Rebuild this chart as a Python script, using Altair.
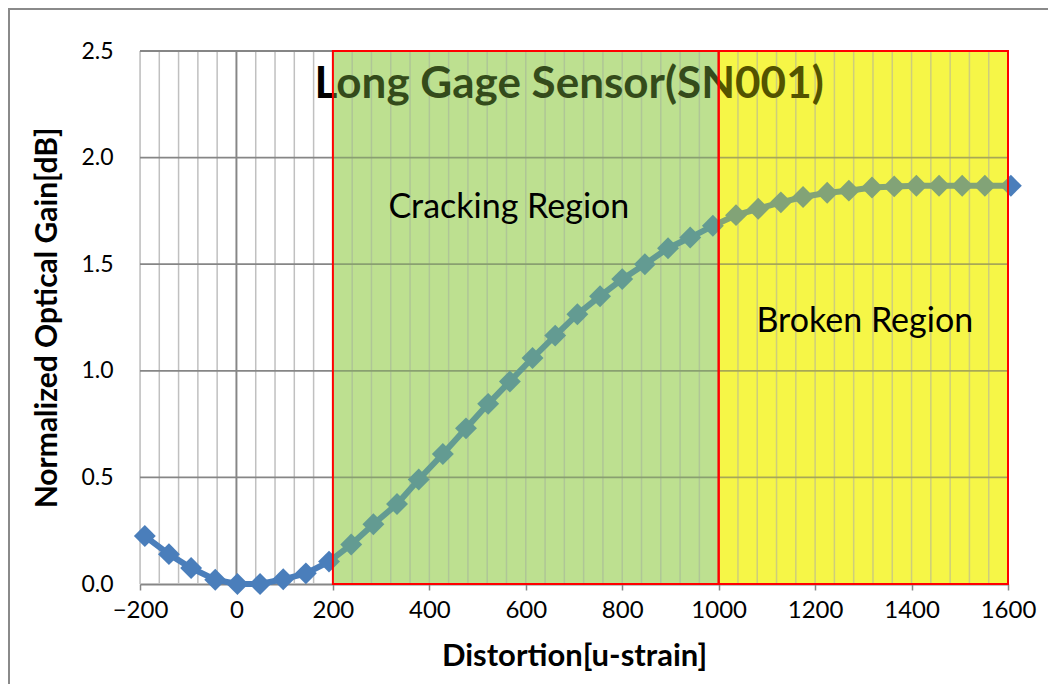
import altair as alt
import pandas as pd

# ---- data ----
strain = [-190, -140, -94, -44, 2, 49, 97, 144, 192, 238, 284, 333, 378, 428, 476,
          522, 567, 614, 661, 707, 754, 800, 847, 895, 941, 988, 1036, 1082, 1129,
          1175, 1225, 1270, 1318, 1364, 1410, 1457, 1505, 1552, 1606]
gain = [0.225, 0.14, 0.075, 0.02, 0.0, 0.0, 0.022, 0.05, 0.105, 0.185, 0.28, 0.375,
        0.49, 0.61, 0.73, 0.845, 0.95, 1.06, 1.165, 1.265, 1.35, 1.43, 1.50, 1.575,
        1.625, 1.68, 1.73, 1.76, 1.79, 1.815, 1.835, 1.845, 1.86, 1.865, 1.868,
        1.868, 1.868, 1.868, 1.868]

x_ticks = [-200, 0, 200, 400, 600, 800, 1000, 1200, 1400, 1600]
y_ticks = [0.0, 0.5, 1.0, 1.5, 2.0, 2.5]
x_minor = list(range(-200, 1601, 40))
y_grid = [0.5, 1.0, 1.5, 2.0, 2.5]

region_name = ["Cracking Region", "Broken Region"]
region_start = [200, 1000]
region_end = [1000, 1600]
region_bottom = [0.0, 0.0]
region_top = [2.5, 2.5]
label_x = [565, 1303]
label_y = [1.764, 1.229]

title_text = ["Long Gage Sensor(SN001)"]
title_x = [690]
title_y = [2.34]

# ---- styles ----
under_colors = {"Cracking Region": "#d6eab8", "Broken Region": "#ffff70"}
over_colors = {"Cracking Region": "#8fcf4a", "Broken Region": "#e6e600"}
BLUE = "#4a7ebb"
FONT = "Lato"

W, H = 868, 533

df = pd.DataFrame({"x": strain, "y": gain})
regions = pd.DataFrame({
    "name": region_name, "x": region_start, "x2": region_end,
    "y": region_bottom, "y2": region_top,
    "lx": label_x, "ly": label_y,
})
regions["under"] = regions["name"].map(under_colors)
regions["over"] = regions["name"].map(over_colors)

xs = alt.Scale(domain=[-200, 1600], nice=False, zero=False)
ys = alt.Scale(domain=[0, 2.5], nice=False, zero=False)

x_axis = alt.Axis(
    values=x_ticks, format="d", grid=False, labelFlush=False,
    domainColor="#868686", domainWidth=2,
    tickColor="#868686", tickSize=6, tickWidth=1.5,
    labelFont=FONT, labelFontSize=24, labelColor="black", labelPadding=8,
    title="Distortion[u-strain]", titleFont=FONT, titleFontSize=31,
    titleFontWeight="bold", titleColor="black",
    titleX=W / 2, titleY=72, titleBaseline="middle", titleAlign="center",
)
y_axis = alt.Axis(
    values=y_ticks, format=".1f", grid=False, domain=False, ticks=False,
    labelFlush=False,
    labelFont=FONT, labelFontSize=23, labelColor="black", labelPadding=27,
    title="Normalized Optical Gain[dB]", titleFont=FONT, titleFontSize=30,
    titleFontWeight="bold", titleColor="black",
    titleX=-93, titleY=H / 2, titleBaseline="middle", titleAlign="center",
)


def X(field="x"):
    return alt.X(f"{field}:Q", scale=xs, axis=x_axis)


def Y(field="y"):
    return alt.Y(f"{field}:Q", scale=ys, axis=y_axis)


under = alt.Chart(regions).mark_rect(opacity=1).encode(
    x=X(), x2="x2", y=Y(), y2="y2",
    fill=alt.Fill("under:N", scale=None),
)

vgrid = alt.Chart(pd.DataFrame({"x": x_minor})).mark_rule(
    color="#c0c0c0", strokeWidth=1.5
).encode(x=X())

yline = alt.Chart(pd.DataFrame({"x": [0]})).mark_rule(
    color="#868686", strokeWidth=1.8
).encode(x=X())

hgrid = alt.Chart(pd.DataFrame({"y": y_grid})).mark_rule(
    color="#868686", strokeWidth=1.8
).encode(y=Y())

title = alt.Chart(pd.DataFrame({"t": title_text, "x": title_x, "y": title_y})).mark_text(
    font=FONT, fontSize=44, fontWeight="bold", color="black",
    align="center", baseline="middle"
).encode(x=X(), y=Y(), text="t:N")

line = alt.Chart(df).mark_line(color=BLUE, strokeWidth=6).encode(x=X(), y=Y())
pts = alt.Chart(df).mark_point(
    shape="diamond", filled=True, size=480, color=BLUE, opacity=1
).encode(x=X(), y=Y())

over = alt.Chart(regions).mark_rect(opacity=0.36).encode(
    x=X(), x2="x2", y=Y(), y2="y2",
    fill=alt.Fill("over:N", scale=None),
)

border = alt.Chart(regions).mark_rect(
    fillOpacity=0, stroke="#ff0000", strokeWidth=2
).encode(x=X(), x2="x2", y=Y(), y2="y2")

labels = alt.Chart(regions).mark_text(
    font=FONT, fontSize=34, color="black", align="center", baseline="middle"
).encode(x=X("lx"), y=Y("ly"), text="name:N")

frame_left = alt.Chart(pd.DataFrame({"a": [0]})).mark_rule(
    color="#8a8a8a", strokeWidth=2
).encode(x=alt.value(-131), y=alt.value(-42), y2=alt.value(H + 100))
frame_top = alt.Chart(pd.DataFrame({"a": [0]})).mark_rule(
    color="#8a8a8a", strokeWidth=2
).encode(x=alt.value(-132), x2=alt.value(W + 40), y=alt.value(-42))

chart = alt.layer(
    under, vgrid, yline, hgrid, title, line, pts, over, border, labels,
    frame_left, frame_top
).properties(
    width=W, height=H,
    autosize=alt.AutoSizeParams(type="none"),
    padding={"left": 132, "top": 43, "right": 40, "bottom": 100},
).configure_view(stroke=None).configure(background="white")

chart.save("out.html", embed_options={"renderer": "svg", "actions": False})
